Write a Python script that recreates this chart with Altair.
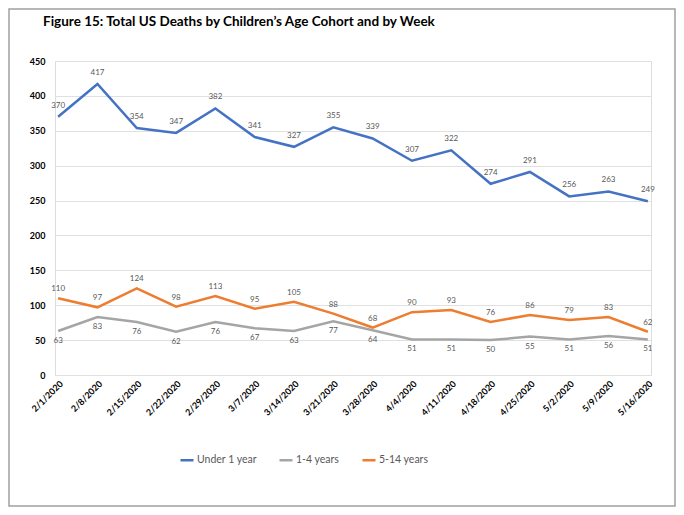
import altair as alt
import pandas as pd

weeks = ["2/1/2020", "2/8/2020", "2/15/2020", "2/22/2020", "2/29/2020", "3/7/2020",
         "3/14/2020", "3/21/2020", "3/28/2020", "4/4/2020", "4/11/2020", "4/18/2020",
         "4/25/2020", "5/2/2020", "5/9/2020", "5/16/2020"]
under1 = [370, 417, 354, 347, 382, 341, 327, 355, 339, 307, 322, 274, 291, 256, 263, 249]
age1_4 = [63, 83, 76, 62, 76, 67, 63, 77, 64, 51, 51, 50, 55, 51, 56, 51]
age5_14 = [110, 97, 124, 98, 113, 95, 105, 88, 68, 90, 93, 76, 86, 79, 83, 62]
series = ["Under 1 year", "1-4 years", "5-14 years"]
colors = ["#4472C4", "#A5A5A5", "#ED7D31"]
title_text = "Figure 15: Total US Deaths by Children\u2019s Age Cohort and by Week"

rows = []
for name, vals in zip(series, [under1, age1_4, age5_14]):
    for i, (w, v) in enumerate(zip(weeks, vals)):
        rows.append({"week": w, "series": name, "deaths": v, "order": i})
df = pd.DataFrame(rows)

FONT = "Lato"

x = alt.X("week:N", sort=weeks, scale=alt.Scale(type="point", padding=0.08),
          axis=alt.Axis(title=None, labelAngle=-45, labelAlign="right", labelBaseline="top",
                        labelFontWeight="bold", labelFontSize=9, labelColor="#000000",
                        ticks=False, domain=False, grid=False, labelPadding=4))
y = alt.Y("deaths:Q", scale=alt.Scale(domain=[0, 450]),
          axis=alt.Axis(title=None, values=list(range(0, 451, 50)), labelFontWeight="bold",
                        labelFontSize=9, labelColor="#000000", ticks=False, domain=False,
                        gridColor="#E0E0E0", labelPadding=10))
color = alt.Color("series:N", scale=alt.Scale(domain=series, range=colors),
                  legend=alt.Legend(title=None, orient="none", direction="horizontal",
                                    legendX=124, legendY=391, symbolType="stroke",
                                    symbolSize=170, symbolStrokeWidth=2.5, labelFontSize=10.5,
                                    labelColor="#595959", columnPadding=17, labelFont=FONT,
                                    symbolOffset=0, labelOffset=2))

one = pd.DataFrame({"a": [0]})
frame = alt.Chart(one).mark_rect(
    filled=False, fill="transparent", stroke="#A0A0A0", strokeWidth=1.5, clip=False
).encode(x=alt.value(-46), x2=alt.value(620), y=alt.value(-52), y2=alt.value(445))

title = alt.Chart(one).mark_text(
    align="left", baseline="middle", fontSize=13.5, font=FONT, fontWeight="bold",
    color="#000000", clip=False
).encode(x=alt.value(-12), y=alt.value(-39), text=alt.value(title_text))

lines = alt.Chart(df).mark_line(strokeWidth=2.5).encode(
    x=x, y=y, color=color, order="order:Q"
)

blue_lbl = alt.Chart(df[df.series == "Under 1 year"]).mark_text(
    dy=-11, fontSize=8, color="#595959", font=FONT
).encode(x=x, y=y, text="deaths:Q")
orange_lbl = alt.Chart(df[df.series == "5-14 years"]).mark_text(
    dy=-9, fontSize=8, color="#595959", font=FONT
).encode(x=x, y=y, text="deaths:Q")
gray_lbl = alt.Chart(df[df.series == "1-4 years"]).mark_text(
    dy=10, fontSize=8, color="#595959", font=FONT
).encode(x=x, y=y, text="deaths:Q")

chart = alt.layer(frame, title, lines, blue_lbl, orange_lbl, gray_lbl).properties(
    width=596, height=314,
    autosize=alt.AutoSizeParams(type="none"),
    padding={"left": 47, "top": 53, "right": 25, "bottom": 132},
).configure_view(stroke=None).configure(font=FONT)

chart.save("out.html", embed_options={"renderer": "svg", "actions": False})
